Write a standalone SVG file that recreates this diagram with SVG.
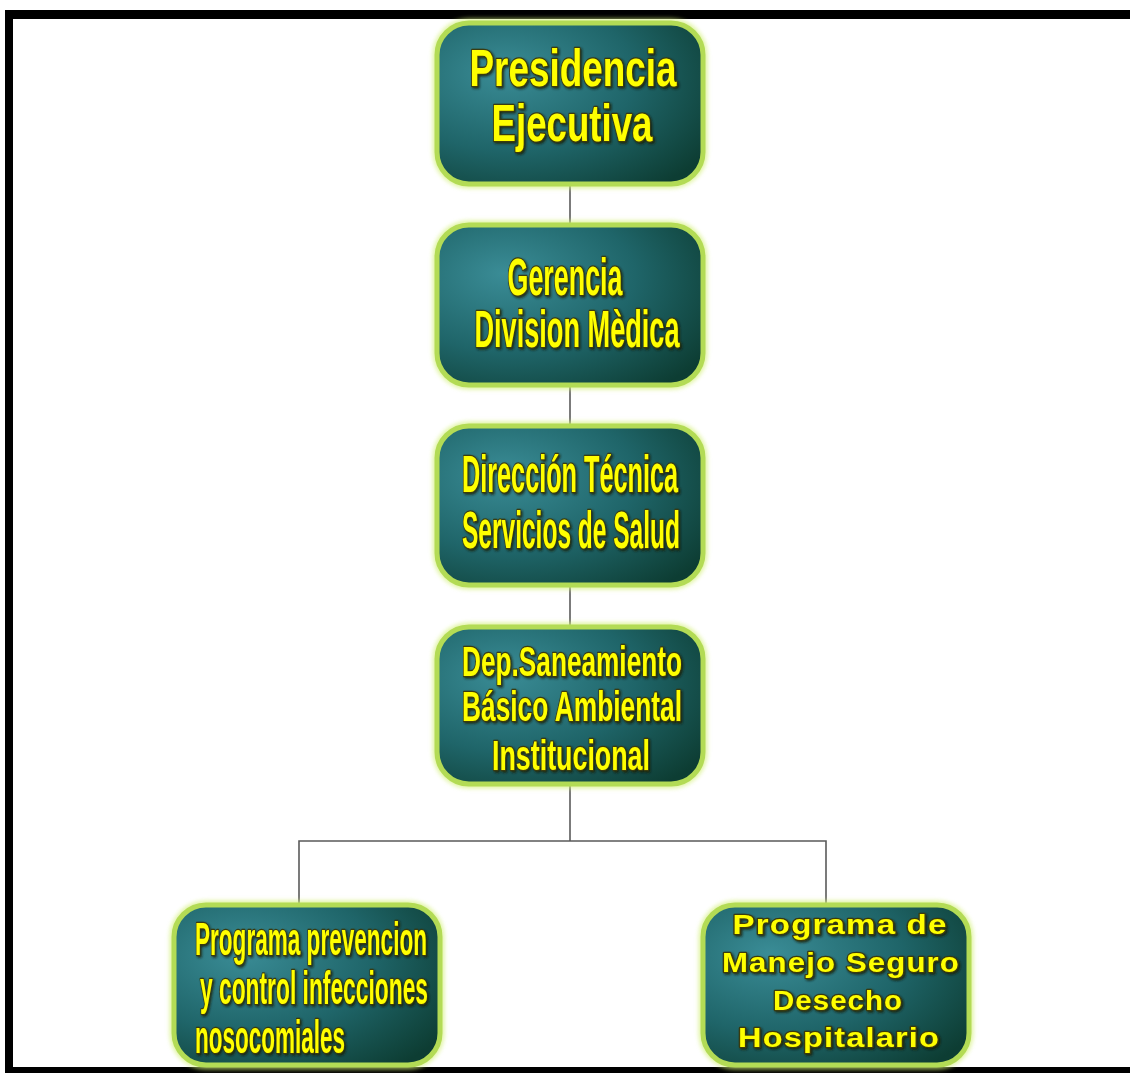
<svg xmlns="http://www.w3.org/2000/svg" width="1130" height="1073" viewBox="0 0 1130 1073">
<defs>
<radialGradient id="fillG" cx="0.3" cy="0.35" r="0.85" fx="0.25" fy="0.3">
<stop offset="0" stop-color="#3a8c96"/>
<stop offset="0.55" stop-color="#1f6569"/>
<stop offset="1" stop-color="#0d3d33"/>
</radialGradient>
<filter id="glow" x="-10%" y="-10%" width="120%" height="120%">
<feGaussianBlur stdDeviation="2"/>
</filter>
<filter id="tshadow" x="-5%" y="-10%" width="110%" height="130%">
<feDropShadow dx="1.5" dy="1.5" stdDeviation="0.8" flood-color="#1a1a00" flood-opacity="0.8"/>
</filter>
</defs>
<style>
.halo{fill:none;stroke:#d4f07c;stroke-width:9;opacity:0.7}
.box{fill:url(#fillG);stroke:#b3db55;stroke-width:5}
.t{font-family:"Liberation Sans",Arial,sans-serif;font-weight:bold;fill:#ffff00;stroke:#3a3a10;stroke-width:2.4;paint-order:stroke;stroke-linejoin:round;filter:url(#tshadow)}
.w{font-family:"Liberation Sans",Arial,sans-serif;font-weight:bold;fill:#ffff00;stroke:#3a3a10;stroke-width:2.4;paint-order:stroke;stroke-linejoin:round;letter-spacing:1px;filter:url(#tshadow)}
.c{fill:none;stroke:#5a5a5a;stroke-width:1.6}
</style>
<rect x="0" y="0" width="1130" height="1073" fill="#ffffff"/>
<g id="frame">
<rect x="5" y="10" width="1125" height="9" fill="#000"/>
<rect x="5" y="10" width="8" height="1063" fill="#000"/>
<rect x="5" y="1067" width="1125" height="6" fill="#000"/>
</g>
<g id="connectors">
<line class="c" x1="570" y1="184" x2="570" y2="226"/>
<line class="c" x1="570" y1="385" x2="570" y2="427"/>
<line class="c" x1="570" y1="585" x2="570" y2="628"/>
<line class="c" x1="570" y1="784" x2="570" y2="841"/>
<polyline class="c" points="299,905 299,841 826,841 826,905"/>
</g>
<g id="n1">
<rect class="halo" x="437" y="23" width="266" height="161" rx="32" filter="url(#glow)"/>
<rect class="box" x="437" y="23" width="266" height="161" rx="32"/>
<text class="t" x="573" y="86" font-size="52" text-anchor="middle" textLength="207" lengthAdjust="spacingAndGlyphs">Presidencia</text>
<text class="t" x="572" y="141" font-size="52" text-anchor="middle" textLength="161" lengthAdjust="spacingAndGlyphs">Ejecutiva</text>
</g>
<g id="n2">
<rect class="halo" x="437" y="225" width="266" height="160" rx="32" filter="url(#glow)"/>
<rect class="box" x="437" y="225" width="266" height="160" rx="32"/>
<text class="t" x="565" y="295" font-size="51" text-anchor="middle" textLength="115" lengthAdjust="spacingAndGlyphs">Gerencia</text>
<text class="t" x="577" y="347" font-size="51" text-anchor="middle" textLength="205" lengthAdjust="spacingAndGlyphs">Division Mèdica</text>
</g>
<g id="n3">
<rect class="halo" x="437" y="426" width="266" height="159" rx="32" filter="url(#glow)"/>
<rect class="box" x="437" y="426" width="266" height="159" rx="32"/>
<text class="t" x="570" y="492" font-size="51" text-anchor="middle" textLength="216" lengthAdjust="spacingAndGlyphs">Dirección Técnica</text>
<text class="t" x="571" y="548" font-size="51" text-anchor="middle" textLength="218" lengthAdjust="spacingAndGlyphs">Servicios de Salud</text>
</g>
<g id="n4">
<rect class="halo" x="437" y="627" width="266" height="157" rx="32" filter="url(#glow)"/>
<rect class="box" x="437" y="627" width="266" height="157" rx="32"/>
<text class="t" x="572" y="676" font-size="43" text-anchor="middle" textLength="220" lengthAdjust="spacingAndGlyphs">Dep.Saneamiento</text>
<text class="t" x="572" y="721" font-size="43" text-anchor="middle" textLength="220" lengthAdjust="spacingAndGlyphs">Básico Ambiental</text>
<text class="t" x="571" y="770" font-size="43" text-anchor="middle" textLength="158" lengthAdjust="spacingAndGlyphs">Institucional</text>
</g>
<g id="n5">
<rect class="halo" x="174" y="905" width="266" height="160" rx="32" filter="url(#glow)"/>
<rect class="box" x="174" y="905" width="266" height="160" rx="32"/>
<text class="t" x="195" y="955" font-size="46" textLength="232" lengthAdjust="spacingAndGlyphs">Programa prevencion</text>
<text class="t" x="200" y="1004" font-size="46" textLength="228" lengthAdjust="spacingAndGlyphs">y control infecciones</text>
<text class="t" x="195" y="1053" font-size="46" textLength="150" lengthAdjust="spacingAndGlyphs">nosocomiales</text>
</g>
<g id="n6">
<rect class="halo" x="703" y="905" width="266" height="160" rx="32" filter="url(#glow)"/>
<rect class="box" x="703" y="905" width="266" height="160" rx="32"/>
<text class="w" x="840" y="934" font-size="28" text-anchor="middle" textLength="215" lengthAdjust="spacingAndGlyphs">Programa de</text>
<text class="w" x="841" y="972" font-size="28" text-anchor="middle" textLength="238" lengthAdjust="spacingAndGlyphs">Manejo Seguro</text>
<text class="w" x="838" y="1010" font-size="28" text-anchor="middle" textLength="130" lengthAdjust="spacingAndGlyphs">Desecho</text>
<text class="w" x="839" y="1047" font-size="28" text-anchor="middle" textLength="202" lengthAdjust="spacingAndGlyphs">Hospitalario</text>
</g>
</svg>
